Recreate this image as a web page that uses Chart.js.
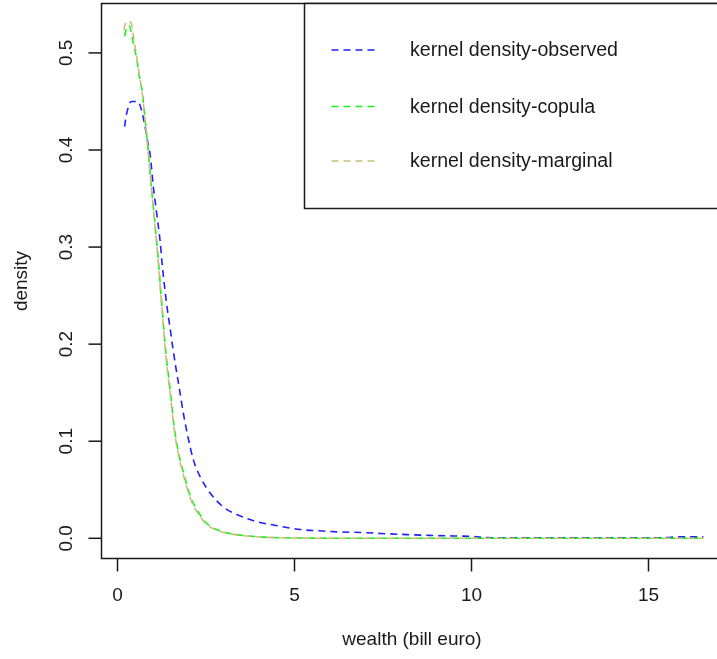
<!DOCTYPE html>
<html lang="en">
<head>
  <meta charset="UTF-8" />
  <title>kernel density</title>
  <script src="https://cdn.jsdelivr.net/npm/chart.js@4.4.1/dist/chart.umd.min.js"></script>
  <style>
    html, body { margin: 0; padding: 0; background: #fff; overflow: hidden; }
    canvas { display: block; }
  </style>
</head>
<body>
<canvas id="densityChart" width="717" height="659"></canvas>

<script>
  // values
  const obsX = [0.20,0.25,0.39,0.57,0.70,0.86,0.93,1.00,1.12,1.21,1.26,1.33,1.40,1.48,1.56,1.64,1.73,1.87,2.01,2.15,2.34,2.63,3.00,3.47,3.95,4.51,5.17,5.80,6.30,6.90,7.43,8.19,8.80,9.50,10.0,10.3,11,12,13,14,15,15.5,15.8,16.2,16.55];
  const obsY = [0.424,0.436,0.450,0.450,0.438,0.407,0.393,0.366,0.331,0.304,0.283,0.259,0.238,0.218,0.197,0.178,0.158,0.127,0.101,0.080,0.063,0.046,0.032,0.023,0.017,0.013,0.009,0.0075,0.0065,0.006,0.005,0.0038,0.003,0.0024,0.002,0.001,0.0005,0.0004,0.0004,0.0004,0.0005,0.0007,0.0014,0.0015,0.0015];

  const copX = [0.20,0.26,0.33,0.46,0.55,0.60,0.70,0.77,0.84,0.90,0.93,1.03,1.12,1.17,1.21,1.26,1.31,1.37,1.40,1.50,1.59,1.73,1.87,2.06,2.25,2.53,2.91,3.38,4.04,4.6,5.5,7,9,11,13,15,16.55];
  const copY = [0.517,0.526,0.528,0.507,0.493,0.479,0.460,0.435,0.410,0.386,0.372,0.335,0.300,0.280,0.259,0.238,0.214,0.190,0.180,0.149,0.118,0.087,0.067,0.043,0.029,0.015,0.0075,0.0038,0.0015,0.0006,0.0002,0,0,0,0,0,0];

  const marX = [0.18,0.23,0.31,0.39,0.48,0.55,0.62,0.70,0.77,0.84,0.90,0.96,1.03,1.12,1.21,1.31,1.40,1.50,1.59,1.73,1.87,2.06,2.25,2.53,2.91,3.38,4.04,4.6,5.5,7,9,11,13,15,16.55];
  const marY = [0.524,0.531,0.533,0.530,0.510,0.494,0.477,0.458,0.433,0.408,0.384,0.360,0.333,0.298,0.258,0.212,0.176,0.145,0.115,0.085,0.064,0.041,0.027,0.014,0.007,0.0035,0.0013,0.0005,0.0001,0,0,0,0,0,0];

  const xTicks = [0, 5, 10, 15];
  const yTicks = [0, 0.1, 0.2, 0.3, 0.4, 0.5];
  const yTickLabels = ['0.0', '0.1', '0.2', '0.3', '0.4', '0.5'];

  const seriesNames = ['kernel density-observed', 'kernel density-copula', 'kernel density-marginal'];
  const seriesColors = ['#1f1fff', '#1fef1f', '#c8bd7a'];

  const FONT = '19px "Liberation Sans", Arial, sans-serif';
  const LEGEND_FONT = '19.6px "Liberation Sans", Arial, sans-serif';
  const INK = '#1a1a1a';
  const DASH = [7, 5];

  function toPoints(xs, ys) {
    return xs.map((x, i) => ({ x: x, y: ys[i] }));
  }

  // R style box, ticks, labels and legend
  const rFrame = {
    id: 'rFrame',
    afterDatasetsDraw(chart) {
      const ctx = chart.ctx;
      const a = chart.chartArea;
      const xs = chart.scales.x, ys = chart.scales.y;
      ctx.save();
      ctx.strokeStyle = INK;
      ctx.lineWidth = 1.5;
      ctx.setLineDash([]);

      // box (right side runs past the picture)
      ctx.beginPath();
      ctx.moveTo(a.right + 5, a.top);
      ctx.lineTo(a.left, a.top);
      ctx.lineTo(a.left, a.bottom);
      ctx.lineTo(a.right + 5, a.bottom);
      ctx.stroke();

      ctx.fillStyle = INK;
      ctx.font = FONT;

      // x axis
      ctx.textAlign = 'center';
      ctx.textBaseline = 'middle';
      xTicks.forEach(v => {
        const px = xs.getPixelForValue(v);
        ctx.beginPath();
        ctx.moveTo(px, a.bottom);
        ctx.lineTo(px, a.bottom + 13);
        ctx.stroke();
        ctx.fillText(String(v), px, 596);
      });

      // y axis
      yTicks.forEach((v, i) => {
        const py = ys.getPixelForValue(v);
        ctx.beginPath();
        ctx.moveTo(a.left - 13, py);
        ctx.lineTo(a.left, py);
        ctx.stroke();
        ctx.save();
        ctx.translate(67, py);
        ctx.rotate(-Math.PI / 2);
        ctx.fillText(yTickLabels[i], 0, 0);
        ctx.restore();
      });

      // axis titles
      ctx.fillText('wealth (bill euro)', 412, 640);
      ctx.save();
      ctx.translate(22, (a.top + a.bottom) / 2);
      ctx.rotate(-Math.PI / 2);
      ctx.fillText('density', 0, 0);
      ctx.restore();

      // legend
      const lx = 304.5, ly = 3.5;
      ctx.fillStyle = '#fff';
      ctx.fillRect(lx, ly, 420, 205);
      ctx.strokeRect(lx, ly, 420, 205);
      const rows = [50, 106.5, 161];
      ctx.textAlign = 'left';
      ctx.font = LEGEND_FONT;
      seriesNames.forEach((name, i) => {
        ctx.strokeStyle = seriesColors[i];
        ctx.lineWidth = 1.5;
        ctx.setLineDash(DASH);
        ctx.beginPath();
        ctx.moveTo(331.5, rows[i]);
        ctx.lineTo(379, rows[i]);
        ctx.stroke();
        ctx.fillStyle = INK;
        ctx.fillText(name, 410, rows[i] + 1);
      });
      ctx.restore();
    }
  };

  const lineStyle = {
    borderWidth: 1.6,
    borderDash: DASH,
    pointRadius: 0,
    fill: false,
    cubicInterpolationMode: 'monotone'
  };

  new Chart(document.getElementById('densityChart'), {
    type: 'line',
    data: {
      datasets: [
        Object.assign({ label: seriesNames[0], data: toPoints(obsX, obsY), borderColor: seriesColors[0], order: 2 }, lineStyle),
        Object.assign({ label: seriesNames[1], data: toPoints(copX, copY), borderColor: seriesColors[1], order: 1 }, lineStyle),
        Object.assign({ label: seriesNames[2], data: toPoints(marX, marY), borderColor: seriesColors[2], order: 0 }, lineStyle)
      ]
    },
    options: {
      responsive: false,
      devicePixelRatio: 1,
      animation: false,
      events: [],
      layout: { padding: { left: 101.5, top: 3.5, right: 0, bottom: 100.5 } },
      scales: {
        x: { type: 'linear', display: false, min: -0.452, max: 16.935 },
        y: { type: 'linear', display: false, min: -0.0208, max: 0.5509 }
      },
      plugins: {
        legend: { display: false },
        tooltip: { enabled: false }
      }
    },
    plugins: [rFrame]
  });
</script>
</body>
</html>
